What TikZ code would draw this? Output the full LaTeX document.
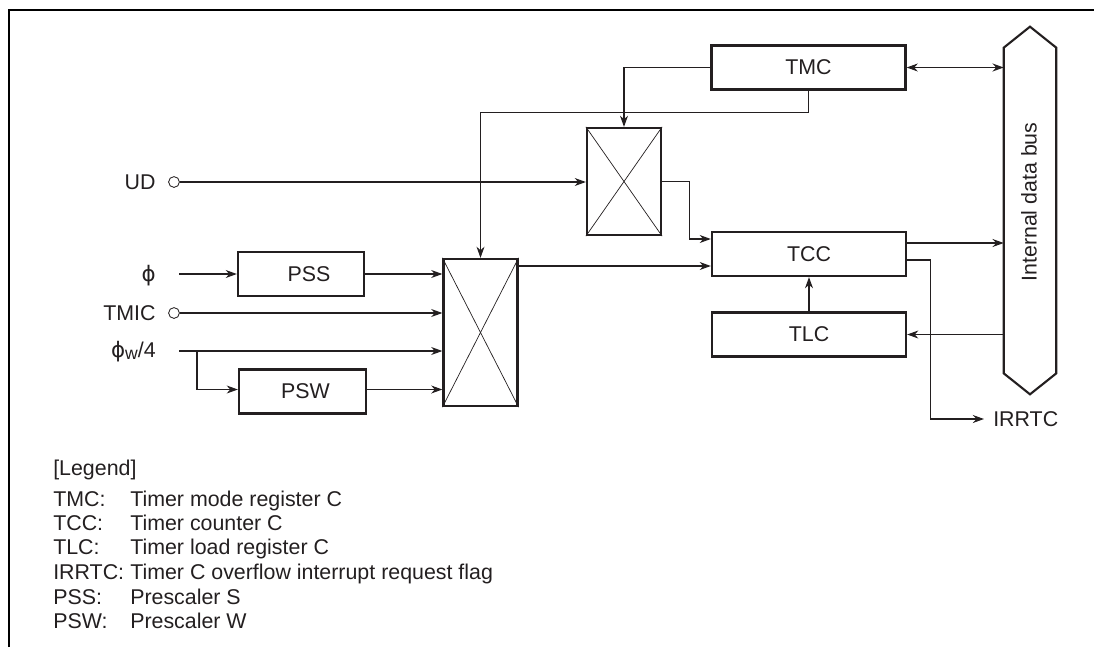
\documentclass[tikz,border=0pt]{standalone}
\usepackage{fontspec}
\setsansfont{Liberation Sans}
\newfontfamily\phifont{DejaVu Sans}
\usetikzlibrary{
    arrows.meta,
    positioning,
    calc
}
\definecolor{ink}{HTML}{231F20}
\tikzset{
    % --- Register or prescaler box ---
    register/.style = {
        rectangle, draw=ink, line width=1.6pt,
        minimum width=4.85cm, minimum height=1.1cm,
        inner sep=0pt, text=ink
    },
    % --- Selector box (crossed rectangle) ---
    selector/.style = {
        rectangle, draw=ink, line width=1.6pt,
        minimum width=1.85cm, inner sep=0pt
    },
    % --- Thin diagonals of a selector ---
    cross line/.style = {
        draw=ink, line width=0.5pt
    },
    % --- Open circle on an input pin ---
    pin/.style = {
        circle, draw=ink, line width=0.6pt,
        minimum size=0.27cm, inner sep=0pt
    },
    % --- Input or output name ---
    port/.style = {
        text=ink, inner sep=0pt
    },
    % --- Legend text ---
    legend/.style = {
        anchor=base west, text=ink, inner sep=0pt
    },
    % --- Signal wire ---
    wire/.style = {
        draw=ink, line width=0.75pt
    }
}

\begin{document}
\begin{tikzpicture}[
    x=0.025cm, y=-0.025cm,
    >={Stealth[length=2.8mm,width=2mm]},
    font=\sffamily\fontsize{15.2}{18}\selectfont
]
\useasboundingbox (0,0) rectangle (1094,647);

% ---------------------------------------------------------
% Outer frame (top and left only)
% ---------------------------------------------------------
\draw[black, line width=1.8pt] (9,647) -- (9,10) -- (1094,10);

% ---------------------------------------------------------
% Inputs (left side)
% ---------------------------------------------------------
\node[pin] (UDpin) at (174,182) {};
\node[port, left=0.31cm of UDpin] (UD) {UD};
\node[pin] (TMICpin) at (174,313) {};
\node[port, left=0.31cm of TMICpin] (TMIC) {TMIC};
\node[port, anchor=east] (Phi) at (156,276) {\phifont ϕ};
\node[port, anchor=east] (PhiW) at (156,352) {{\phifont ϕ}\raisebox{-1pt}{\fontsize{12.5}{14}\selectfont w}/4};
\coordinate (PhiIn) at (179,274);
\coordinate (PhiWIn) at (179,351);
\coordinate (PhiWTap) at (197,351);

% ---------------------------------------------------------
% Registers and prescalers
% ---------------------------------------------------------
\node[register, minimum width=3.15cm] (PSS) at (301,274) {\hspace{0.4cm}PSS};
\node[register, minimum width=3.175cm] (PSW) at (302.5,391.5) {\hspace{0.15cm}PSW};
\node[register] (TMC) at (808.5,67.5) {TMC};
\node[register] (TCC) at (809,254) {TCC};
\node[register] (TLC) at (809,334.5) {TLC};

% ---------------------------------------------------------
% Selectors
% ---------------------------------------------------------
\node[selector, minimum height=2.675cm] (SmallMux) at (624,181.5) {};
\node[selector, minimum height=3.675cm] (BigMux) at (480.5,332.5) {};
\draw[cross line] (SmallMux.north west) -- (SmallMux.south east);
\draw[cross line] (SmallMux.north east) -- (SmallMux.south west);
\draw[cross line] (BigMux.north west) -- (BigMux.south east);
\draw[cross line] (BigMux.north east) -- (BigMux.south west);

% ---------------------------------------------------------
% Internal data bus
% ---------------------------------------------------------
\node[minimum width=1.3cm, minimum height=8.125cm, inner sep=0pt] (Bus) at (1030,210.5) {};
\draw[ink, line width=1.5pt] (Bus.north west) -- ($(Bus.north)+(0,-21)$) -- (Bus.north east)
    -- (Bus.south east) -- ($(Bus.south)+(0,21)$) -- (Bus.south west) -- cycle;
\node[port, rotate=90] (BusText) at (1029,202) {Internal data bus};

% ---------------------------------------------------------
% Connections
% ---------------------------------------------------------
\draw[wire, ->] (UDpin) -- (UDpin -| SmallMux.west);
\draw[wire, ->] (PhiIn) -- (PSS.west);
\draw[wire, ->] (PSS.east) -- (PSS.east -| BigMux.west);
\draw[wire, ->] (TMICpin) -- (TMICpin -| BigMux.west);
\draw[wire, ->] (PhiWIn) -- (PhiWIn -| BigMux.west);
\draw[wire, ->] (PhiWTap) |- ($(PSW.west)+(0,-2)$);
\draw[wire, ->] ($(PSW.east)+(0,-2)$) -- ($(PSW.east -| BigMux.west)+(0,-2)$);

% Mode register to both selectors
\draw[wire, ->] (TMC.west) -| (SmallMux.north);
\draw[wire, ->] (TMC.south) -- ++(0,22) -| (BigMux.north);
\draw[wire, <->] (TMC.east) -- (TMC.east -| Bus.west);

% Counter inputs
\coordinate (TCCinA) at ($(TCC.west)+(0,-15)$);
\coordinate (TCCinB) at ($(TCC.west)+(0,12)$);
\draw[wire, ->] (SmallMux.east) -- ++(27,0) |- (TCCinA);
\draw[wire, ->] (TCCinB -| BigMux.east) -- (TCCinB);
\draw[wire, ->] (TLC.north) -- (TCC.south);
\draw[wire, ->] (TLC.east -| Bus.west) -- (TLC.east);

% Counter outputs
\node[port, anchor=west] (IRRTC) at (993,419) {IRRTC};
\coordinate (TCCoutA) at ($(TCC.east)+(0,-11)$);
\coordinate (TCCoutB) at ($(TCC.east)+(0,6)$);
\draw[wire, ->] (TCCoutA) -- (TCCoutA -| Bus.west);
\draw[wire, ->] (TCCoutB) -- ++(23,0) |- ($(IRRTC.west)+(-9,0)$);

% ---------------------------------------------------------
% Legend
% ---------------------------------------------------------
\node[legend] (LegendHead) at (53,475) {[Legend]};
\node[legend] (KeyTMC) at (53,506) {TMC:};
\node[legend] (KeyTCC) at (53,530) {TCC:};
\node[legend] (KeyTLC) at (53,554) {TLC:};
\node[legend] (KeyIRRTC) at (53,579) {IRRTC:};
\node[legend] (KeyPSS) at (53,604) {PSS:};
\node[legend] (KeyPSW) at (53,628) {PSW:};
\node[legend] (TextTMC) at (130,506) {Timer mode register C};
\node[legend] (TextTCC) at (130,530) {Timer counter C};
\node[legend] (TextTLC) at (130,554) {Timer load register C};
\node[legend] (TextIRRTC) at (130,579) {Timer C overflow interrupt request flag};
\node[legend] (TextPSS) at (130,604) {Prescaler S};
\node[legend] (TextPSW) at (130,628) {Prescaler W};

\end{tikzpicture}
\end{document}
